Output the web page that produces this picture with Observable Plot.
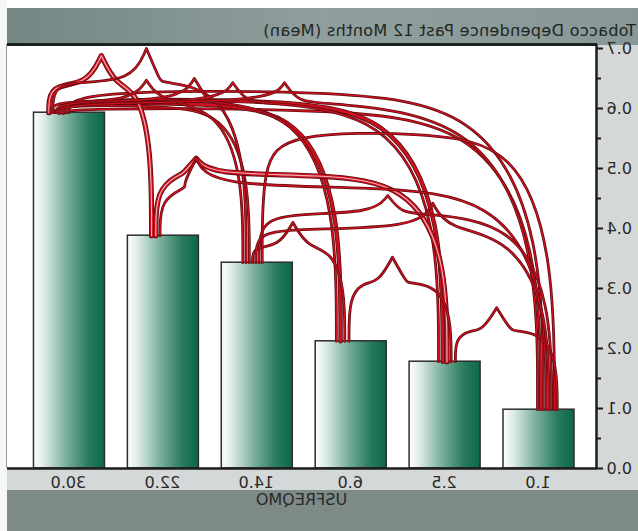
<!DOCTYPE html>
<html>
<head>
<meta charset="utf-8">
<script src="https://cdn.jsdelivr.net/npm/d3@7"></script>
<script src="https://cdn.jsdelivr.net/npm/@observablehq/plot@0.6"></script>
<style>
  html, body { margin: 0; padding: 0; background: #fff; }
  #chart { position: relative; width: 638px; height: 531px; overflow: hidden; transform: scaleX(-1); font-family: "DejaVu Sans", sans-serif; }
  .band { position: absolute; }
  #chart svg { position: absolute; left: 0; top: 0; }
  #title { position: absolute; left: 2px; top: 21px; font-size: 16px; line-height: 20px; letter-spacing: 0.35px; color: #1f2524; white-space: nowrap; }
</style>
</head>
<body>
<div id="chart">
  <div class="band" style="left:0;top:0;width:638px;height:531px;background:#d4d8d8"></div>
  <div class="band" style="left:0;top:0;width:638px;height:8px;background:#ffffff"></div>
  <div class="band" style="left:0;top:8px;width:631px;height:37px;background:linear-gradient(90deg,#879896,#8f9f9d 50%,#748784)"></div>
  <div class="band" style="left:0;top:490px;width:631px;height:41px;background:#7e8a88"></div>
  <div class="band" style="left:631px;top:0;width:7px;height:531px;background:#f6f7f7"></div>
  <div id="title">Tobacco Dependence Past 12 Months (Mean)</div>
</div>
<script>
// Mean tobacco dependence by smoking frequency (USFREQMO)
const categories = ["1.0", "2.5", "6.0", "14.0", "22.0", "30.0"];
const means = [0.098, 0.178, 0.212, 0.343, 0.388, 0.593];
const yTicks = [0, 0.1, 0.2, 0.3, 0.4, 0.5, 0.6, 0.7];
const yMinorTicks = [0.05, 0.15, 0.25, 0.35, 0.45, 0.55, 0.65];

// Connections drawn over the bars: source, target, travel level,
// optional spikes [position, tip value], and stroke weight
const links = [
  {from: "30.0", to: "1.0",  level: 0.63,  spikes: [], weight: 1},
  {from: "30.0", to: "1.0",  level: 0.60,  spikes: [], weight: 1},
  {from: "30.0", to: "2.5",  level: 0.615, spikes: [], weight: 2},
  {from: "30.0", to: "6.0",  level: 0.61,  spikes: [], weight: 2},
  {from: "30.0", to: "14.0", level: 0.605, spikes: [], weight: 1},
  {from: "30.0", to: "22.0", level: 0.64,  spikes: [[4.65, 0.688]], weight: 3},
  {from: "30.0", to: "14.0", level: 0.645, spikes: [[4.17, 0.70]], weight: 1},
  {from: "30.0", to: "14.0", level: 0.612, spikes: [[4.17, 0.647]], weight: 1},
  {from: "30.0", to: "6.0",  level: 0.612, spikes: [[3.66, 0.65]], weight: 1},
  {from: "30.0", to: "2.5",  level: 0.61,  spikes: [[3.25, 0.643]], weight: 1},
  {from: "30.0", to: "1.0",  level: 0.61,  spikes: [[2.70, 0.643]], weight: 1},
  {from: "22.0", to: "2.5",  level: 0.49,  spikes: [[3.64, 0.517]], weight: 3},
  {from: "22.0", to: "1.0",  level: 0.47,  spikes: [[3.64, 0.517]], weight: 1},
  {from: "14.0", to: "6.0",  level: 0.37,  spikes: [[2.61, 0.41]], weight: 1},
  {from: "14.0", to: "1.0",  level: 0.56,  spikes: [], weight: 1},
  {from: "14.0", to: "1.0",  level: 0.425, spikes: [[1.60, 0.455]], weight: 1},
  {from: "14.0", to: "1.0",  level: 0.40,  spikes: [[1.12, 0.442]], weight: 1},
  {from: "6.0",  to: "2.5",  level: 0.31,  spikes: [[1.55, 0.352]], weight: 1},
  {from: "2.5",  to: "1.0",  level: 0.23,  spikes: [[0.44, 0.268]], weight: 1}
];

const idx = c => categories.indexOf(c);
const bars = categories.map((c, i) => ({i, category: c, value: means[i]}));

// spread the link ends across each bar top
const landShift = {"1.0": -0.1, "2.5": -0.03, "6.0": 0.08, "14.0": 0.04, "22.0": 0.07, "30.0": 0.1};
const ends = new Map(categories.map(c => [c, []]));
links.forEach((l, k) => {
  ends.get(l.from).push({k, side: "from", other: idx(l.to)});
  ends.get(l.to).push({k, side: "to", other: idx(l.from)});
});
const landing = links.map(() => ({}));
for (const [c, list] of ends) {
  list.sort((a, b) => a.other - b.other);
  const n = list.length;
  const gap = Math.min(0.045, 0.24 / n);
  list.forEach((e, j) => { landing[e.k][e.side] = idx(c) + landShift[c] + (j - (n - 1) / 2) * gap; });
}

// control points for a B-spline route; a tripled point makes a sharp spike
function route(l, k) {
  const s = idx(l.from), t = idx(l.to), dir = Math.sign(t - s), span = Math.abs(t - s);
  const xs = landing[k].from, xt = landing[k].to;
  const pts = [[xs, means[s]]];
  const riseS = l.level - means[s];
  if (riseS > 0.05) pts.push([xs, l.level - 0.25 * riseS], [xs + dir * (0.1 + 0.05 * span), l.level]);
  else pts.push([xs, l.level]);
  for (const [xc, tip] of l.spikes) {
    pts.push([xc - 0.15 * dir, l.level], [xc, tip], [xc, tip], [xc, tip], [xc + 0.15 * dir, l.level]);
  }
  // rounded descent into the target bar
  const rx = Math.min(2.3, 0.45 * span), drop = l.level - means[t];
  const last = () => pts[pts.length - 1][0];
  if ((xt - dir * rx - last()) * dir > 0) pts.push([xt - dir * rx, l.level]);
  if ((xt - dir * 0.3 * rx - last()) * dir > 0) pts.push([xt - dir * 0.3 * rx, l.level - 0.05 * drop]);
  pts.push([xt, l.level - 0.45 * drop], [xt, means[t]]);
  return pts.map(([x, y]) => ({x, y}));
}

const strokeLayers = {
  1: [["#5e0b10", 2.8], ["#d0111f", 1.3]],
  2: [["#5e0b10", 4.4], ["#cc101d", 2.8]],
  3: [["#5e0b10", 5.2], ["#d0111f", 3.6], ["#f3b2b8", 1.1]]
};
const linkMarks = links.flatMap((l, k) => {
  const pts = route(l, k);
  return strokeLayers[l.weight].map(([stroke, strokeWidth]) =>
    Plot.line(pts, {x: "x", y: "y", curve: "basis", stroke, strokeWidth, strokeLinecap: "round"}));
});

const xMin = -0.623, xMax = 5.66;

const gradientDefs = () => {
  const defs = d3.create("svg:defs");
  const g = defs.append("linearGradient").attr("id", "barFill")
    .attr("x1", 0).attr("x2", 1).attr("y1", 0).attr("y2", 0);
  [[0, "#0c6847"], [0.22, "#277a5c"], [0.55, "#7db19e"], [0.85, "#dcebe5"], [1, "#ffffff"]]
    .forEach(([o, c]) => g.append("stop").attr("offset", o).attr("stop-color", c));
  return defs.node();
};

const chart = Plot.plot({
  width: 638,
  height: 531,
  marginLeft: 41,
  marginRight: 7,
  marginTop: 48,
  marginBottom: 63,
  x: {domain: [xMin, xMax], axis: null, label: null},
  y: {domain: [0, 0.7], axis: null, label: null},
  style: {background: "transparent", fontFamily: "DejaVu Sans", fontSize: "16px", color: "#2a2a2a", overflow: "visible"},
  marks: [
    gradientDefs,
    Plot.frame({fill: "white", stroke: null, insetTop: -4}),
    Plot.rectY(bars, {x1: d => d.i - 0.378, x2: d => d.i + 0.378, y1: 0, y2: "value", fill: "url(#barFill)", stroke: "#2d2d2d", strokeWidth: 1.5}),
    ...linkMarks,
    Plot.ruleY([0], {stroke: "#1d1d1d", strokeWidth: 2.5}),
    Plot.ruleY([0.7], {dy: -4, stroke: "#1b2220", strokeWidth: 3}),
    Plot.ruleX([xMin], {stroke: "#1d1d1d", strokeWidth: 2.5, insetTop: -4}),
    Plot.ruleX([xMax], {stroke: "#9a9a9a", strokeWidth: 1, insetTop: -4}),
    Plot.axisY(yTicks, {anchor: "left", tickSize: 6, tickPadding: 4, tickFormat: d3.format(".1f"), fontSize: 16, stroke: "#1d1d1d", strokeWidth: 2, label: null}),
    Plot.axisY(yMinorTicks, {anchor: "left", tickSize: 4, tickFormat: () => "", stroke: "#1d1d1d", strokeWidth: 2, label: null}),
    Plot.axisX(d3.range(categories.length), {anchor: "bottom", tickSize: 0, tickPadding: 8, tickFormat: i => categories[i], fontSize: 16, label: null}),
    Plot.text(["USFREQMO"], {frameAnchor: "bottom", dy: 31, lineAnchor: "middle", fontSize: 16, fill: "#2a2a2a"})
  ]
});

document.getElementById("chart").append(chart);
</script>
</body>
</html>
